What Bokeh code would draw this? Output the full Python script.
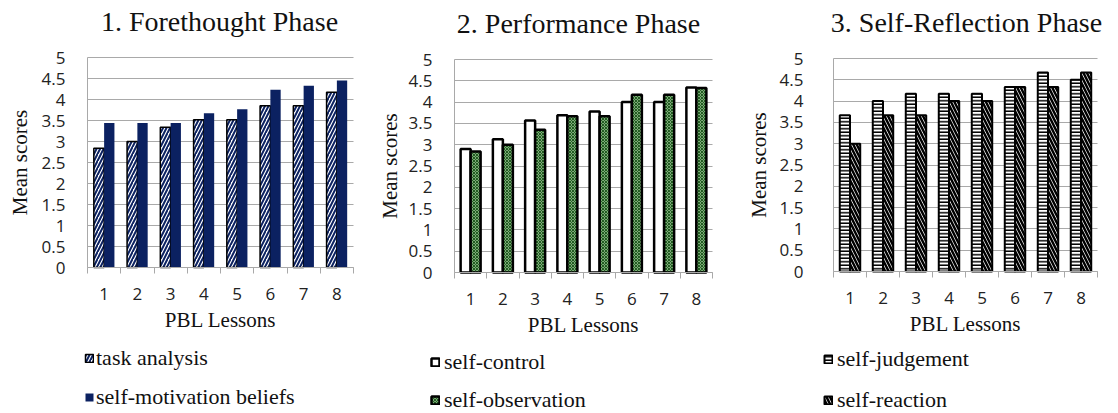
from bokeh.plotting import figure
from bokeh.models import (ColumnDataSource, FixedTicker, NumeralTickFormatter,
                          Legend, LegendItem, Range1d, Label)
from bokeh.transform import dodge
from bokeh.layouts import row
from bokeh.embed import file_html
from bokeh.resources import INLINE

# ---------------- data ----------------
lessons = [1, 2, 3, 4, 5, 6, 7, 8]
y_ticks = [0, 0.5, 1, 1.5, 2, 2.5, 3, 3.5, 4, 4.5, 5]

titles = ["1. Forethought Phase", "2. Performance Phase", "3. Self-Reflection Phase"]
x_label = "PBL Lessons"
y_label = "Mean scores"

task_analysis = [2.84, 3.0, 3.34, 3.52, 3.52, 3.85, 3.85, 4.17]
self_motivation_beliefs = [3.44, 3.44, 3.44, 3.67, 3.77, 4.23, 4.33, 4.45]

self_control = [2.9, 3.13, 3.57, 3.69, 3.78, 4.0, 4.0, 4.34]
self_observation = [2.84, 3.0, 3.35, 3.67, 3.67, 4.17, 4.17, 4.33]

self_judgement = [3.67, 4.0, 4.17, 4.17, 4.17, 4.33, 4.67, 4.5]
self_reaction = [3.0, 3.67, 3.67, 4.0, 4.0, 4.33, 4.33, 4.67]

series_names = [["task analysis", "self-motivation beliefs"],
                ["self-control", "self-observation"],
                ["self-judgement", "self-reaction"]]
series_values = [[task_analysis, self_motivation_beliefs],
                 [self_control, self_observation],
                 [self_judgement, self_reaction]]

# ---------------- styles ----------------
NAVY = "#0b2161"
GRID = "#a9a9a9"
SERIF = "Liberation Serif"
SANS = "Open Sans"
H = 413

bar_styles = [
    [dict(fill_color="white", hatch_pattern="/", hatch_color=NAVY, hatch_weight=2,
          hatch_scale=7, line_color="black", line_width=1.5),
     dict(fill_color=NAVY, line_color=None)],
    [dict(fill_color="white", line_color="black", line_width=2.5),
     dict(fill_color="#a8d0a0", hatch_pattern="x", hatch_color="#1f5a1f", hatch_weight=1.2,
          hatch_scale=3, line_color="black", line_width=2.5)],
    [dict(fill_color="white", hatch_pattern="-", hatch_color="black", hatch_weight=1.5,
          hatch_scale=3.5, line_color="black", line_width=2),
     dict(fill_color="white", hatch_pattern="\\", hatch_color="black", hatch_weight=2.5,
          hatch_scale=7, line_color="black", line_width=2)],
]

# pixel layout of each panel (inside its own figure): plot area left/right/top/bottom,
# title centre, legend position / spacing, y tick & label standoffs
layouts = [
    dict(width=370, L=87, R=353, T=57, B=267, tx=219, ty=21, lx=84, ly=3, sp=13, lst=2, yts=22, yls=7),
    dict(width=370, L=84, R=342, T=59, B=272, tx=208, ty=23, lx=60, ly=0, sp=12, lst=4, yts=22, yls=4),
    dict(width=378, L=93, R=357, T=58, B=271, tx=226, ty=22, lx=83, ly=0, sp=15, lst=4, yts=30, yls=6),
]

boundaries = [l - 0.5 for l in lessons] + [lessons[-1] + 0.5]
y_lo, y_hi = y_ticks[0], y_ticks[-1]
BAR_W = 0.31

figs = []
for k in range(3):
    G = layouts[k]
    W = G["width"]
    ux = (G["R"] - G["L"]) / (boundaries[-1] - boundaries[0])
    uy = (G["B"] - G["T"]) / (y_hi - y_lo)
    x_range = Range1d(boundaries[0] - G["L"] / ux, boundaries[-1] + (W - G["R"]) / ux)
    y_range = Range1d(y_lo - (H - G["B"]) / uy, y_hi + G["T"] / uy)

    p = figure(width=W, height=H, output_backend="svg", toolbar_location=None,
               x_range=x_range, y_range=y_range,
               min_border_left=0, min_border_right=0, min_border_top=0, min_border_bottom=0)
    p.outline_line_color = None
    p.background_fill_color = "white"
    p.border_fill_color = "white"

    src = ColumnDataSource(dict(lesson=lessons, a=series_values[k][0], b=series_values[k][1]))
    ra = p.vbar(x=dodge("lesson", -BAR_W / 2, range=p.x_range), top="a", width=BAR_W,
                source=src, **bar_styles[k][0])
    rb = p.vbar(x=dodge("lesson", BAR_W / 2, range=p.x_range), top="b", width=BAR_W,
                source=src, **bar_styles[k][1])

    # x axis (fixed at y = 0)
    xa = p.xaxis[0]
    xa.fixed_location = y_lo
    xa.bounds = (boundaries[0], boundaries[-1])
    xa.ticker = FixedTicker(ticks=lessons, minor_ticks=boundaries)
    xa.major_tick_line_color = None
    xa.major_tick_out = 0
    xa.major_tick_in = 0
    xa.minor_tick_line_color = GRID
    xa.minor_tick_in = 0
    xa.minor_tick_out = 6
    xa.axis_line_color = GRID
    xa.major_label_text_font = SANS
    xa.major_label_text_font_size = "17px"
    xa.major_label_text_color = "#222222"
    xa.major_label_standoff = 14
    xa.axis_label = x_label
    xa.axis_label_text_font = SERIF
    xa.axis_label_text_font_size = "21px"
    xa.axis_label_text_font_style = "normal"
    xa.axis_label_text_color = "#111111"
    xa.axis_label_standoff = 5

    # y axis (fixed at the left edge of the plot area)
    ya = p.yaxis[0]
    ya.fixed_location = boundaries[0]
    ya.bounds = (y_lo, y_hi)
    ya.ticker = FixedTicker(ticks=y_ticks)
    ya.formatter = NumeralTickFormatter(format="0.[0]")
    ya.major_tick_line_color = None
    ya.minor_tick_line_color = None
    ya.major_tick_out = 0
    ya.major_tick_in = 0
    ya.axis_line_color = GRID
    ya.major_label_text_font = SANS
    ya.major_label_text_font_size = "17px"
    ya.major_label_text_color = "#222222"
    ya.major_label_standoff = G["yts"]
    ya.axis_label = y_label
    ya.axis_label_text_font = SERIF
    ya.axis_label_text_font_size = "21px"
    ya.axis_label_text_font_style = "normal"
    ya.axis_label_text_color = "#111111"
    ya.axis_label_standoff = G["yls"]

    p.xgrid.grid_line_color = None
    p.ygrid.ticker = FixedTicker(ticks=y_ticks)
    p.ygrid.bounds = (y_lo, y_hi)
    p.ygrid.cross_bounds = (boundaries[0], boundaries[-1])
    p.ygrid.grid_line_color = GRID
    p.ygrid.grid_line_width = 1
    p.ygrid.level = "underlay"

    title = Label(x=G["tx"], y=H - G["ty"], x_units="screen", y_units="screen",
                  text=titles[k], text_align="center", text_baseline="middle",
                  text_font=SERIF, text_font_size="28px", text_color="#111111")
    p.add_layout(title)

    legend = Legend(items=[LegendItem(label=series_names[k][0], renderers=[ra]),
                           LegendItem(label=series_names[k][1], renderers=[rb])],
                    location=(G["lx"], G["ly"]), orientation="vertical",
                    padding=0, margin=0, border_line_color=None, background_fill_alpha=0,
                    label_text_font=SERIF, label_text_font_size="22px",
                    label_text_color="#111111",
                    glyph_width=10, glyph_height=10, label_height=25, spacing=G["sp"],
                    label_standoff=G["lst"])
    p.add_layout(legend)
    figs.append(p)

layout = row(*figs)
open("out.html", "w").write(file_html(layout, INLINE))
